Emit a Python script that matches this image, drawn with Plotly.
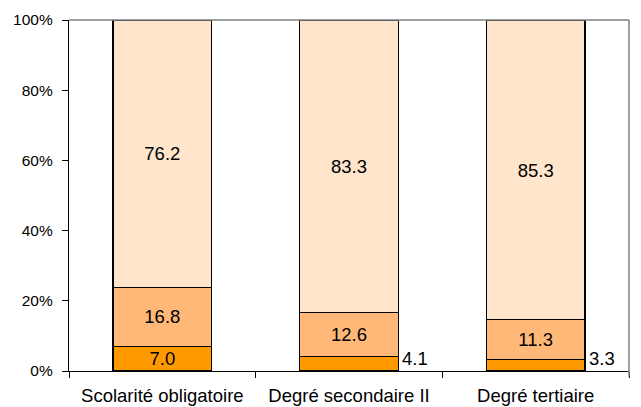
import plotly.graph_objects as go

categories = ["Scolarité obligatoire", "Degré secondaire II", "Degré tertiaire"]
seg_bottom = [7.0, 4.1, 3.3]
seg_middle = [16.8, 12.6, 11.3]
seg_top = [76.2, 83.3, 85.3]
y_ticks = [0, 20, 40, 60, 80, 100]
y_tick_labels = ["0%", "20%", "40%", "60%", "80%", "100%"]

colors = ["#FF9900", "#FFB877", "#FFE5CC"]
FONT = "Liberation Sans, Arial, sans-serif"
BAR_W = 0.53

fig = go.Figure()
series = [seg_bottom, seg_middle, seg_top]
for vals, col in zip(series, colors):
    texts = [f"{v:.1f}" if v >= 5 else "" for v in vals]
    fig.add_trace(go.Bar(
        x=categories, y=vals, width=BAR_W,
        marker=dict(color=col, line=dict(color="#000000", width=1.3)),
        text=texts, textposition="inside", insidetextanchor="middle",
        textangle=0, constraintext="none",
        textfont=dict(family=FONT, size=18.5, color="#000000"),
        hoverinfo="skip", showlegend=False,
    ))

# outside labels for small bottom segments
for i, v in enumerate(seg_bottom):
    if v < 5:
        fig.add_annotation(
            x=i + BAR_W / 2, y=0, xref="x", yref="y", text=f"{v:.1f}",
            showarrow=False, xanchor="left", yanchor="bottom", xshift=2, yshift=0,
            font=dict(family=FONT, size=18.5, color="#000000"),
        )

# gray top/right plot border
fig.add_shape(type="line", xref="paper", yref="paper", x0=0, x1=1, y0=1, y1=1,
              line=dict(color="#808080", width=1.5))
fig.add_shape(type="line", xref="paper", yref="paper", x0=1, x1=1, y0=-0.017, y1=1,
              line=dict(color="#808080", width=1.5))

fig.update_layout(
    barmode="stack",
    width=633, height=399,
    margin=dict(l=61, r=12, t=12, b=36),
    paper_bgcolor="#FFFFFF", plot_bgcolor="#FFFFFF",
    font=dict(family=FONT, size=15.5, color="#000000"),
    xaxis=dict(
        type="category", range=[-0.5, 2.5], tickson="boundaries",
        ticks="outside", ticklen=6, tickcolor="#000000", tickwidth=1,
        showline=True, linecolor="#000000", linewidth=1.3,
        showgrid=False, zeroline=False, automargin=False,
        ticklabelstandoff=8,
        tickfont=dict(family=FONT, size=18.5, color="#000000"),
    ),
    yaxis=dict(
        range=[0, 100], tickvals=y_ticks, ticktext=y_tick_labels,
        ticks="outside", ticklen=6, tickcolor="#000000", tickwidth=1,
        showline=True, linecolor="#000000", linewidth=1.3,
        showgrid=False, zeroline=False, automargin=False,
        ticklabelstandoff=6,
        tickfont=dict(family=FONT, size=15.5, color="#000000"),
    ),
)

fig.write_html("out.html")
